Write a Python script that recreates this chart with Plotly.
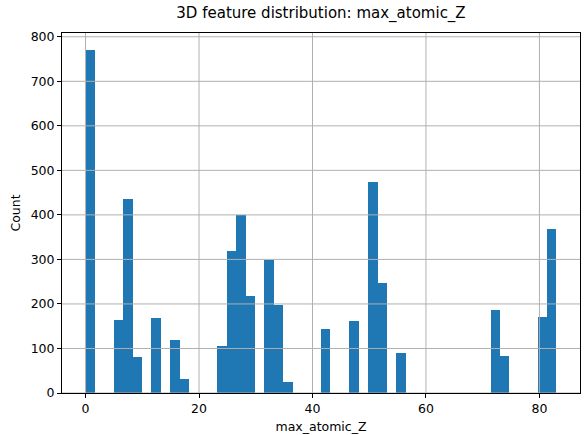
import numpy as np
import plotly.graph_objects as go

# Histogram of max_atomic_Z: 50 equal bins over [0, 83]
x_min = 0
x_max = 83
n_bins = 50
bin_counts = [770, 0, 0, 163, 435, 80, 0, 168, 0, 118,
              31, 0, 0, 0, 105, 320, 399, 218, 0, 298,
              197, 25, 0, 0, 0, 143, 0, 0, 161, 0,
              475, 246, 0, 89, 0, 0, 0, 0, 0, 0,
              0, 0, 0, 186, 82, 0, 0, 0, 170, 368]
x_ticks = [0, 20, 40, 60, 80]
y_ticks = [0, 100, 200, 300, 400, 500, 600, 700, 800]

edges = np.linspace(x_min, x_max, n_bins + 1)
centers = (edges[:-1] + edges[1:]) / 2
width = edges[1] - edges[0]

fig = go.Figure(go.Bar(
    x=centers, y=bin_counts, width=width,
    marker=dict(color="#1f77b4", line=dict(width=0)),
))

span = x_max - x_min
font = "DejaVu Sans, sans-serif"
grid = "#b0b0b0"

# gridlines drawn above the bars, as matplotlib does here
shapes = []
for t in x_ticks:
    shapes.append(dict(type="line", xref="x", yref="y domain", x0=t, x1=t, y0=0, y1=1,
                       line=dict(color=grid, width=1), layer="above"))
for t in y_ticks:
    shapes.append(dict(type="line", xref="x domain", yref="y", x0=0, x1=1, y0=t, y1=t,
                       line=dict(color=grid, width=1), layer="above"))

fig.update_layout(
    width=584, height=435,
    margin=dict(l=62, r=4, t=33, b=42),
    paper_bgcolor="white", plot_bgcolor="white",
    font=dict(family=font, size=12.5, color="black"),
    title=dict(text="3D feature distribution: max_atomic_Z", x=321 / 584, xanchor="center",
               y=1 - 13 / 435, yanchor="middle", font=dict(size=15, family=font)),
    bargap=0, showlegend=False, shapes=shapes,
)
fig.update_xaxes(
    range=[x_min - 0.05 * span, x_max + 0.05 * span], automargin=False,
    tickvals=x_ticks, ticks="outside", ticklen=4, tickwidth=1, tickcolor="black",
    showgrid=False,
    showline=True, linecolor="black", linewidth=1, mirror=True,
    zeroline=False, layer="above traces",
    title=dict(text="max_atomic_Z", font=dict(size=12.5), standoff=7),
)
fig.update_yaxes(
    range=[0, 1.05 * max(bin_counts)], automargin=False,
    tickvals=y_ticks, ticks="outside", ticklen=4, tickwidth=1, tickcolor="black",
    showgrid=False,
    showline=True, linecolor="black", linewidth=1, mirror=True,
    zeroline=False, layer="above traces",
    title=dict(text="Count", font=dict(size=12.5), standoff=7),
)

fig.write_html("out.html", config={"displayModeBar": False},
               post_script="document.body.style.margin='0';document.body.style.overflow='hidden';")
